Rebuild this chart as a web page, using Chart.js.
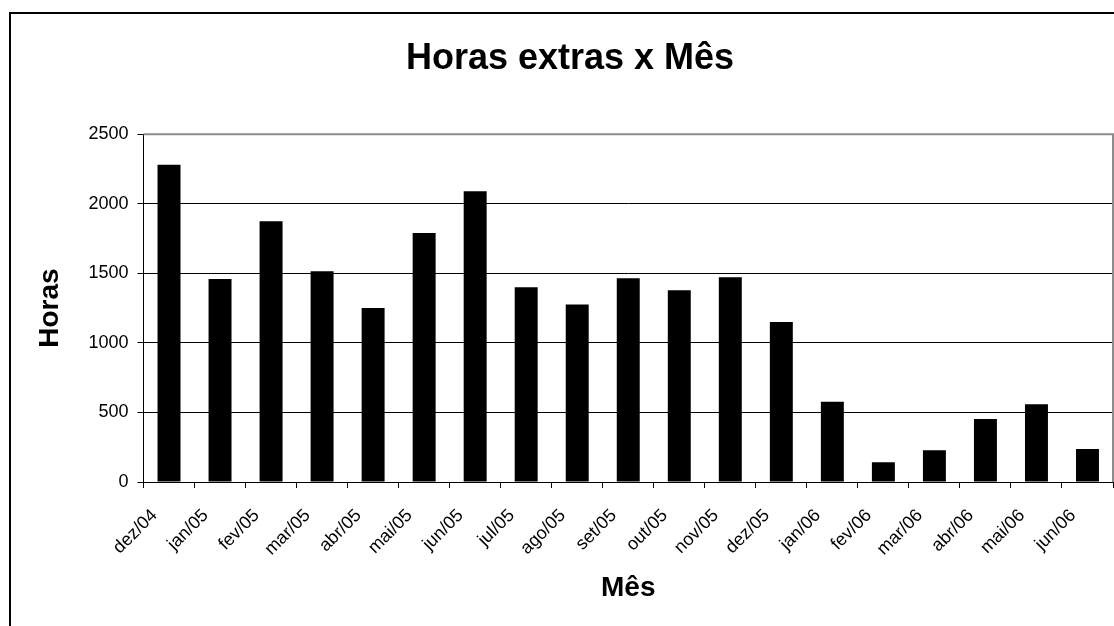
<!DOCTYPE html>
<html>
<head>
<meta charset="utf-8">
<script src="https://cdn.jsdelivr.net/npm/chart.js@4/dist/chart.umd.min.js"></script>
<style>
  html, body { margin: 0; padding: 0; background: #fff; overflow: hidden; width: 1114px; height: 626px; }
  #frame { position: absolute; left: 9px; top: 12px; width: 1120px; height: 640px; border: 2px solid #000; }
  #myChart { display: block; }
</style>
</head>
<body>
<div id="frame"><canvas id="myChart" width="1120" height="595"></canvas></div>
<script>
// Month labels and overtime hours
const months = ['dez/04', 'jan/05', 'fev/05', 'mar/05', 'abr/05', 'mai/05', 'jun/05', 'jul/05', 'ago/05',
  'set/05', 'out/05', 'nov/05', 'dez/05', 'jan/06', 'fev/06', 'mar/06', 'abr/06', 'mai/06', 'jun/06'];
const hours = [2280, 1460, 1875, 1515, 1250, 1790, 2090, 1400, 1275,
  1465, 1378, 1472, 1150, 577, 142, 228, 452, 558, 238];
const yTicks = [0, 500, 1000, 1500, 2000, 2500];

const fontFamily = '"Liberation Sans", Arial, sans-serif';

// gray border on top and right of the plot area (Excel style)
const plotBorder = {
  id: 'plotBorder',
  afterDraw(chart) {
    const { ctx, chartArea: a } = chart;
    ctx.save();
    ctx.strokeStyle = '#8c8c8c';
    ctx.lineWidth = 2;
    ctx.beginPath();
    ctx.moveTo(a.left, a.top);
    ctx.lineTo(a.right, a.top);
    ctx.lineTo(a.right, a.bottom);
    ctx.stroke();
    ctx.restore();
  }
};

const ctx = document.getElementById('myChart').getContext('2d');
new Chart(ctx, {
  type: 'bar',
  data: {
    labels: months,
    datasets: [{
      label: 'Horas',
      data: hours,
      backgroundColor: '#000',
      borderWidth: 0,
      categoryPercentage: 1,
      barPercentage: 0.45
    }]
  },
  options: {
    responsive: false,
    animation: false,
    devicePixelRatio: 1,
    // left padding keeps the title centred on the whole frame
    layout: { padding: { left: 16, right: 18, top: 0, bottom: 0 } },
    plugins: {
      legend: { display: false },
      tooltip: { enabled: false },
      title: {
        display: true,
        text: 'Horas extras x Mês',
        color: '#000',
        font: { family: fontFamily, size: 36, weight: 'bold' },
        padding: { top: 23, bottom: 54 }
      }
    },
    scales: {
      x: {
        afterFit(scale) { scale.height = 127; },
        grid: { drawOnChartArea: false, drawTicks: true, tickLength: 6, color: '#000', offset: true },
        border: { color: '#000', width: 1 },
        ticks: {
          color: '#000',
          font: { family: fontFamily, size: 18 },
          minRotation: 45,
          maxRotation: 45,
          autoSkip: false,
          padding: 17,
          labelOffset: -14.5
        },
        title: {
          display: true,
          text: 'Mês',
          color: '#000',
          font: { family: fontFamily, size: 28, weight: 'bold' },
          padding: { top: 0, bottom: 4 }
        }
      },
      y: {
        min: 0,
        max: 2500,
        afterFit(scale) { scale.width = 116.5; },
        afterBuildTicks(scale) { scale.ticks = yTicks.map(v => ({ value: v })); },
        grid: { color: '#000', lineWidth: 1, tickLength: 6 },
        border: { color: '#000', width: 1 },
        ticks: {
          color: '#000',
          font: { family: fontFamily, size: 18 },
          padding: 9,
          callback: v => String(v)
        },
        title: {
          display: true,
          text: 'Horas',
          color: '#000',
          font: { family: fontFamily, size: 28, weight: 'bold' },
          padding: { top: 6.5, bottom: 0 }
        }
      }
    }
  },
  plugins: [plotBorder]
});
</script>
</body>
</html>
